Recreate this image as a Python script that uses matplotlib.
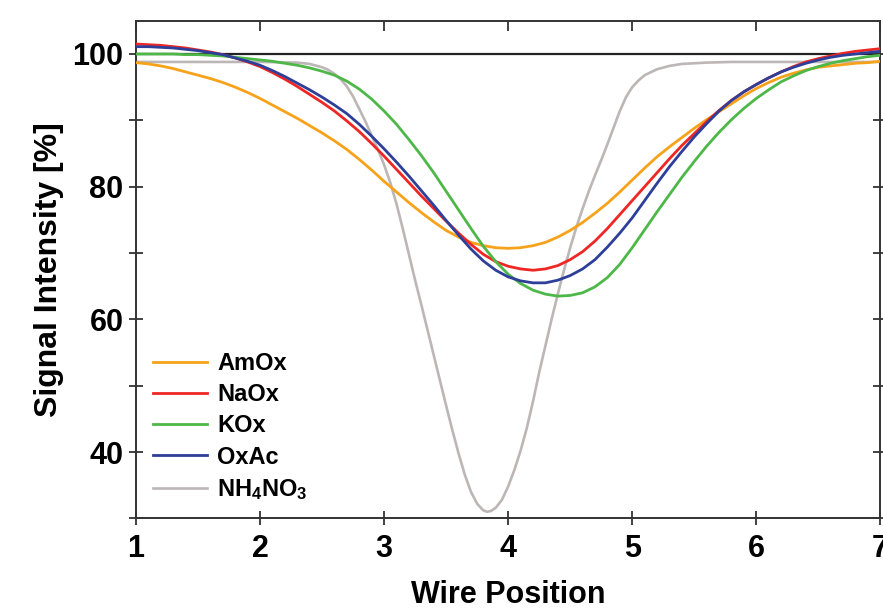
import matplotlib
matplotlib.use("Agg")
import matplotlib.pyplot as plt
from matplotlib.ticker import MultipleLocator, FixedLocator

plt.rcParams['font.family'] = ['Liberation Sans', 'DejaVu Sans']
plt.rcParams['font.weight'] = 'bold'
plt.rcParams['mathtext.fontset'] = 'custom'
plt.rcParams['mathtext.rm'] = 'Liberation Sans:bold'
plt.rcParams['mathtext.it'] = 'Liberation Sans:bold'
plt.rcParams['mathtext.bf'] = 'Liberation Sans:bold'
plt.rcParams['mathtext.default'] = 'rm'

# Wire-scan profiles (signal intensity in % vs. wire position)
x_broad = [1.0, 1.1, 1.2, 1.3, 1.4, 1.5, 1.6, 1.7, 1.8, 1.9,
           2.0, 2.1, 2.2, 2.3, 2.4, 2.5, 2.6, 2.7, 2.8, 2.9,
           3.0, 3.1, 3.2, 3.3, 3.4, 3.5, 3.6, 3.7, 3.8, 3.9,
           4.0, 4.1, 4.2, 4.3, 4.4, 4.5, 4.6, 4.7, 4.8, 4.9,
           5.0, 5.1, 5.2, 5.3, 5.4, 5.5, 5.6, 5.7, 5.8, 5.9,
           6.0, 6.1, 6.2, 6.3, 6.4, 6.5, 6.6, 6.7, 6.8, 6.9, 7.0]

amox = [98.7, 98.5, 98.2, 97.8, 97.3, 96.8, 96.3, 95.7, 95.0, 94.2,
        93.3, 92.3, 91.3, 90.3, 89.2, 88.1, 86.9, 85.6, 84.1, 82.5,
        80.8, 79.2, 77.6, 76.1, 74.7, 73.4, 72.4, 71.6, 71.1, 70.8,
        70.7, 70.8, 71.1, 71.6, 72.4, 73.4, 74.6, 76.0, 77.5, 79.2,
        81.0, 82.8, 84.5, 86.0, 87.4, 88.8, 90.1, 91.3, 92.5, 93.7,
        94.8, 95.7, 96.5, 97.1, 97.6, 98.0, 98.2, 98.4, 98.6, 98.7, 98.9]
naox = [101.5, 101.4, 101.3, 101.1, 100.9, 100.6, 100.3, 99.9, 99.4, 98.8,
        98.1, 97.2, 96.2, 95.1, 93.9, 92.7, 91.4, 89.9, 88.3, 86.5,
        84.6, 82.6, 80.6, 78.6, 76.7, 74.8, 73.0, 71.3, 69.8, 68.7,
        68.0, 67.6, 67.4, 67.6, 68.1, 69.0, 70.2, 71.8, 73.7, 75.8,
        77.9, 80.0, 82.1, 84.2, 86.2, 88.0, 89.8, 91.5, 93.0, 94.3,
        95.4, 96.4, 97.3, 98.1, 98.8, 99.3, 99.7, 100.1, 100.4, 100.6, 100.8]
kox = [100.0, 100.0, 100.0, 100.0, 99.9, 99.9, 99.8, 99.7, 99.5, 99.3,
       99.1, 98.9, 98.6, 98.3, 97.9, 97.4, 96.8, 95.9, 94.7, 93.2,
       91.4, 89.4, 87.1, 84.7, 82.1, 79.3, 76.5, 73.7, 71.0, 68.7,
       66.8, 65.4, 64.4, 63.8, 63.5, 63.6, 64.0, 64.9, 66.3, 68.3,
       70.8, 73.5, 76.2, 78.8, 81.4, 83.8, 86.1, 88.2, 90.1, 91.8,
       93.3, 94.6, 95.8, 96.7, 97.5, 98.1, 98.6, 99.0, 99.3, 99.6, 99.8]
oxac = [101.1, 101.1, 101.0, 100.9, 100.7, 100.5, 100.2, 99.9, 99.4, 98.9,
        98.3, 97.5, 96.6, 95.6, 94.6, 93.5, 92.3, 91.0, 89.4, 87.6,
        85.7, 83.7, 81.6, 79.4, 77.2, 74.9, 72.7, 70.6, 68.8, 67.4,
        66.4, 65.8, 65.5, 65.5, 65.9, 66.6, 67.6, 69.0, 70.9, 73.0,
        75.3, 77.9, 80.5, 83.0, 85.3, 87.5, 89.5, 91.4, 93.0, 94.3,
        95.4, 96.4, 97.3, 98.0, 98.6, 99.1, 99.5, 99.8, 100.0, 100.2, 100.4]

x_nh4no3 = [1.0, 2.0, 2.3, 2.4, 2.5, 2.55, 2.6, 2.65, 2.7, 2.75, 2.8, 2.85,
            2.9, 2.95, 3.0, 3.05, 3.1, 3.15, 3.2, 3.25, 3.3, 3.35, 3.4, 3.45,
            3.5, 3.55, 3.6, 3.65, 3.7, 3.75, 3.8, 3.83, 3.86, 3.9, 3.95, 4.0,
            4.05, 4.1, 4.15, 4.2, 4.25, 4.3, 4.35, 4.4, 4.45, 4.5, 4.55, 4.6,
            4.65, 4.7, 4.75, 4.8, 4.85, 4.9, 4.95, 5.0, 5.05, 5.1, 5.2, 5.3,
            5.4, 5.6, 5.8, 7.0]
nh4no3 = [98.8, 98.8, 98.7, 98.5, 98.0, 97.6, 97.0, 96.2, 95.1, 93.6, 91.7, 89.8,
          87.7, 85.6, 83.3, 80.6, 77.4, 73.7, 69.8, 65.9, 62.2, 58.4, 54.6, 50.8,
          47.0, 43.3, 39.8, 36.6, 34.0, 32.2, 31.2, 31.0, 31.1, 31.6, 32.8, 34.8,
          37.3, 40.2, 43.6, 47.6, 52.0, 56.0, 60.0, 63.8, 67.4, 70.8, 73.9, 76.7,
          79.3, 81.7, 84.0, 86.4, 88.9, 91.4, 93.5, 95.0, 96.0, 96.8, 97.7, 98.2,
          98.5, 98.7, 98.8, 98.8]

labels = ['AmOx', 'NaOx', 'KOx', 'OxAc', r'NH$_4$NO$_3$']
colors = ['#F7A21B', '#EE2724', '#4DB848', '#2E3F99', '#BDB6B6']

x_ticks = [1, 2, 3, 4, 5, 6, 7]
y_major = [40, 60, 80, 100]

fig = plt.figure(figsize=(8.83, 6.12), dpi=100)
ax = fig.add_axes([0.154, 0.153, 0.843, 0.813])

ax.axhline(100, color='#222222', lw=1.6, zorder=1)
series = [amox, naox, kox, oxac]
for vals, lab, col in zip(series, labels[:4], colors[:4]):
    ax.plot(x_broad, vals, color=col, lw=2.0, label=lab, zorder=3,
            solid_joinstyle='round')
ax.plot(x_nh4no3, nh4no3, color=colors[4], lw=1.9, label=labels[4], zorder=2,
        solid_joinstyle='round')

ax.set_xlim(1, 7)
ax.set_ylim(30, 105)
ax.xaxis.set_major_locator(FixedLocator(x_ticks))
ax.yaxis.set_major_locator(FixedLocator(y_major))
ax.yaxis.set_minor_locator(MultipleLocator(10))

for s in ax.spines.values():
    s.set_linewidth(1.4)
    s.set_color('#333333')

ax.tick_params(axis='x', which='both', direction='inout', length=10, width=1.3,
               color='#333333', labelsize=22, pad=6, top=True)
ax.tick_params(axis='y', which='both', direction='inout', length=10, width=1.3,
               color='#333333', labelsize=22, pad=4, right=True)
ax.xaxis.set_tick_params(which='major', labeltop=False)
# top ticks point outward only
for t in ax.xaxis.get_major_ticks():
    t.tick2line.set_marker(3)
    t.tick2line.set_markersize(7)

ax.set_xlabel('Wire Position', fontsize=22, fontweight='bold', labelpad=12)
ax.set_ylabel('Signal Intensity [%]', fontsize=23, fontweight='bold', labelpad=6)

leg = ax.legend(loc='lower left', bbox_to_anchor=(0.0, 0.0), frameon=False,
                fontsize=17, handlelength=2.3, handletextpad=0.45,
                labelspacing=0.35, borderaxespad=0.3)

fig.savefig('out.png', dpi=100)
